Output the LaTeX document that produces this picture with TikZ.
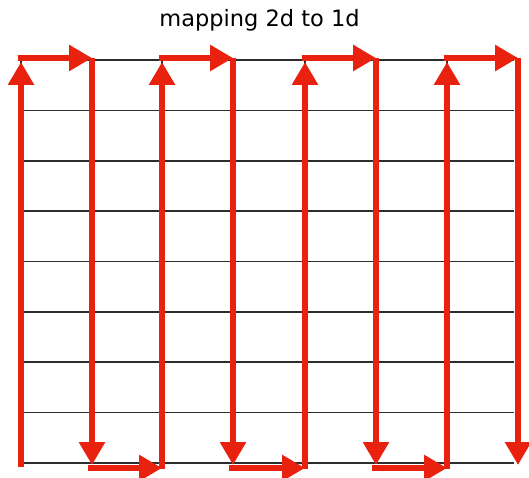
\documentclass[tikz,border=0pt]{standalone}
\usepackage{fontspec}
\setmainfont{DejaVu Sans}
\usepackage{tikz}
\usetikzlibrary{arrows.meta}
\definecolor{mapred}{RGB}{232, 34, 14}
\definecolor{mapgrid}{RGB}{45, 45, 45}

\begin{document}
\begin{tikzpicture}[
      x=1pt, y=1pt,
      gridline/.style={draw=mapgrid, line width=1.6pt},
      redarrow/.style={-{Triangle[length=23pt, width=25pt]}, line width=6.8pt, mapred},
      title/.style={font=\fontsize{22.5}{25}\selectfont, anchor=base}
    ]
      \useasboundingbox (0,0) rectangle (529,477);

      % Titre
      \node[title] (title) at (259.5,450) {mapping 2d to 1d};

      % Coins de la grille
      \coordinate (t0) at (21,417);  \coordinate (b0) at (21,14);
      \coordinate (t1) at (92,417);  \coordinate (b1) at (92,14);
      \coordinate (t2) at (162,417); \coordinate (b2) at (162,14);
      \coordinate (t3) at (233,417); \coordinate (b3) at (233,14);
      \coordinate (t4) at (305,417); \coordinate (b4) at (305,14);
      \coordinate (t5) at (376,417); \coordinate (b5) at (376,14);
      \coordinate (t6) at (447,417); \coordinate (b6) at (447,14);
      \coordinate (t7) at (518,417); \coordinate (b7) at (518,14);

      % Grille
      \foreach \k in {0,...,8}
        \draw[gridline] (18,14+\k*50.375) -- (514,14+\k*50.375);
      \foreach \c in {21,92,162,233,305,376,447,518}
        \draw[gridline] (\c,14) -- (\c,417);

      % Parcours
      \draw[redarrow] ([yshift=-4pt]b0) -- ([yshift=-2pt]t0);
      \draw[redarrow] ([shift={(-3pt,2pt)}]t0) -- ([yshift=2pt]t1);
      \draw[redarrow] ([yshift=2pt]t1) -- ([yshift=-2pt]b1);
      \draw[redarrow] ([shift={(-4pt,-5pt)}]b1) -- ([yshift=-5pt]b2);
      \draw[redarrow] ([yshift=-6pt]b2) -- ([yshift=-2pt]t2);
      \draw[redarrow] ([shift={(-3pt,2pt)}]t2) -- ([yshift=2pt]t3);
      \draw[redarrow] ([yshift=2pt]t3) -- ([yshift=-2pt]b3);
      \draw[redarrow] ([shift={(-4pt,-5pt)}]b3) -- ([yshift=-5pt]b4);
      \draw[redarrow] ([yshift=-6pt]b4) -- ([yshift=-2pt]t4);
      \draw[redarrow] ([shift={(-3pt,2pt)}]t4) -- ([yshift=2pt]t5);
      \draw[redarrow] ([yshift=2pt]t5) -- ([yshift=-2pt]b5);
      \draw[redarrow] ([shift={(-4pt,-5pt)}]b5) -- ([yshift=-5pt]b6);
      \draw[redarrow] ([yshift=-6pt]b6) -- ([yshift=-2pt]t6);
      \draw[redarrow] ([shift={(-3pt,2pt)}]t6) -- ([yshift=2pt]t7);
      \draw[redarrow] ([yshift=2pt]t7) -- ([yshift=-2pt]b7);
\end{tikzpicture}
\end{document}
